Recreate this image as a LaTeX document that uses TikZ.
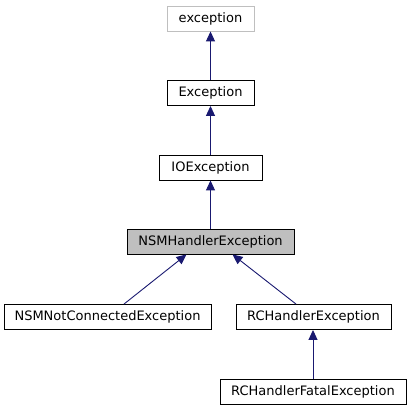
\documentclass[tikz,border=0pt]{standalone}
\usepackage{fontspec}
\setmainfont{DejaVu Sans}
\usetikzlibrary{arrows.meta}

\definecolor{edgeblue}{HTML}{191970}
\definecolor{boxgray}{HTML}{BFBFBF}

\tikzset{
  cls/.style={draw=black, line width=0.9pt, fill=white, minimum height=25pt,
    inner xsep=0pt, font=\fontsize{13}{15}\selectfont},
  inherit/.style={draw=edgeblue, line width=0.9pt,
    -{Triangle[length=10pt, width=9pt]}}
}

\begin{document}
\begin{tikzpicture}[x=1pt, y=-1pt]
  \useasboundingbox (0,0) rectangle (412,411);
  % base classes
  \node[cls, draw=boxgray, minimum width=87pt] (stdexc) at (210.5,18.5) {exception};
  \node[cls, minimum width=87pt] (exc) at (210.5,93) {Exception};
  \node[cls, minimum width=103pt] (ioexc) at (210.5,167.5) {IOException};
  % this class
  \node[cls, fill=boxgray, minimum width=167pt] (nsmhandler) at (210.5,241.5) {NSMHandlerException};
  % derived classes
  \node[cls, minimum width=207pt] (nsmnotconn) at (107.5,317) {NSMNotConnectedException};
  \node[cls, minimum width=155pt] (rchandler) at (313.5,317) {RCHandlerException};
  \node[cls, minimum width=186pt] (rcfatal) at (313,392) {RCHandlerFatalException};
  % inheritance
  \draw[inherit] (exc) -- (stdexc);
  \draw[inherit] (ioexc) -- (exc);
  \draw[inherit] (nsmhandler) -- (ioexc);
  \draw[inherit] ([xshift=16.5pt]nsmnotconn.north) -- ([xshift=-24pt]nsmhandler.south);
  \draw[inherit] ([xshift=-17.5pt]rchandler.north) -- ([xshift=22pt]nsmhandler.south);
  \draw[inherit] (rcfatal.north) -- (rcfatal.north |- rchandler.south);
\end{tikzpicture}
\end{document}
